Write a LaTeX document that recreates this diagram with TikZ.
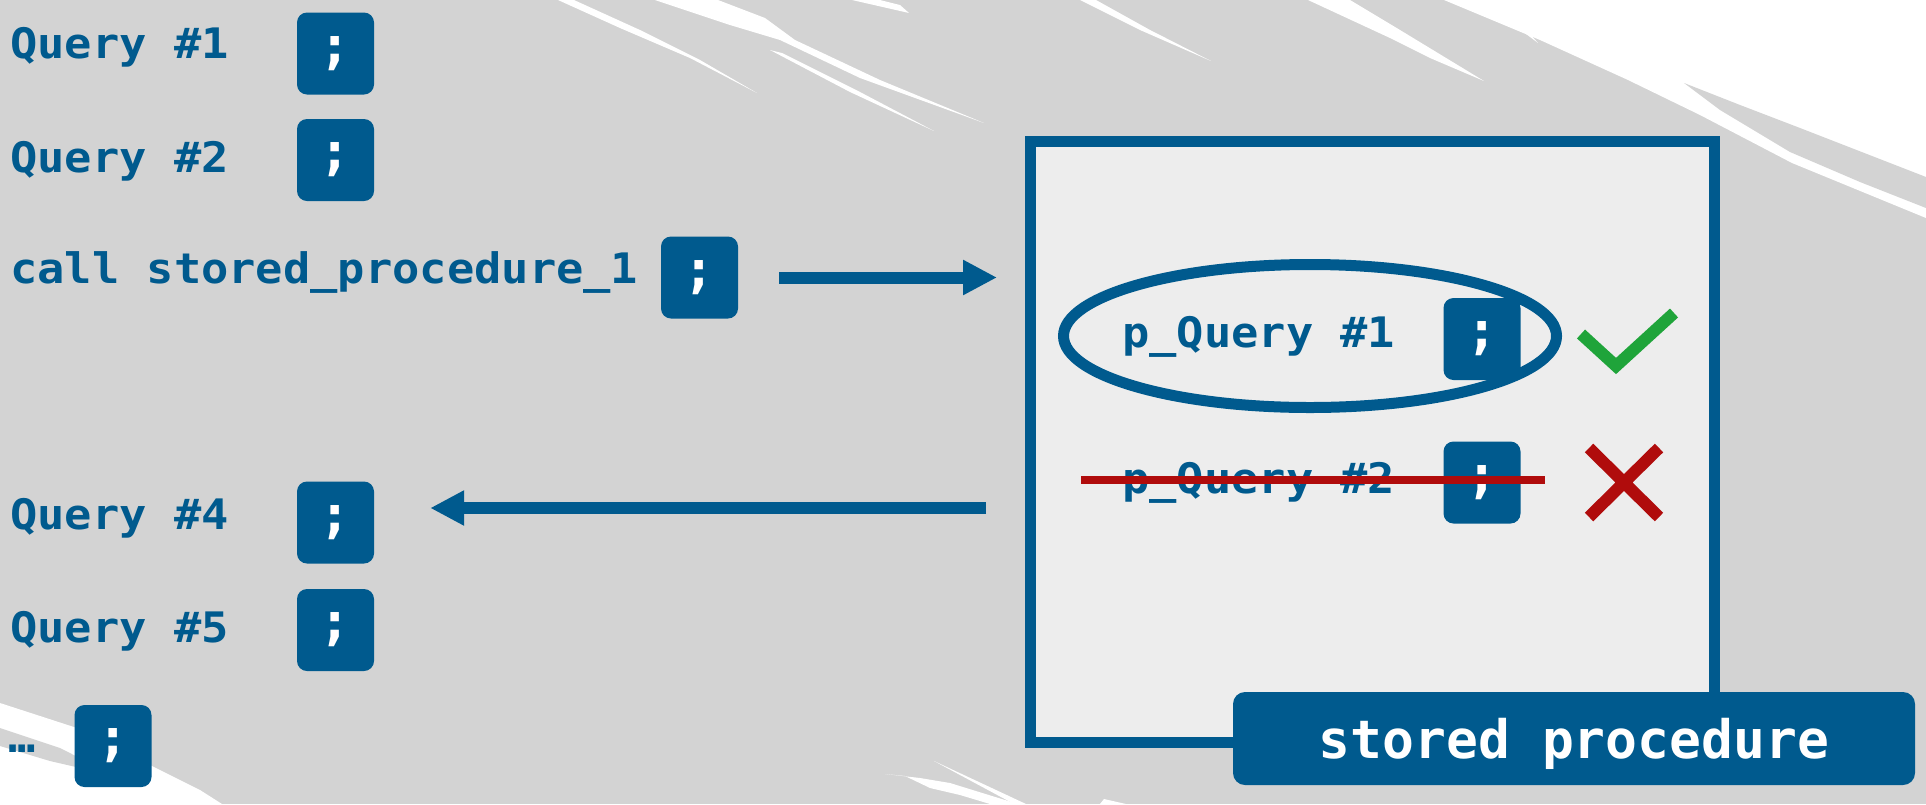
\documentclass[tikz,border=0pt]{standalone}
\usepackage{fontspec}
\usetikzlibrary{arrows.meta,shapes.geometric}
\newfontfamily\qfont{DejaVu Sans Mono}[FakeStretch=1.08]
\newfontfamily\spfont{DejaVu Sans Mono}
\definecolor{myblue}{HTML}{005A8E}
\definecolor{bggray}{HTML}{D3D3D3}
\definecolor{boxfill}{HTML}{EDEDED}
\definecolor{okgreen}{HTML}{1FA43A}
\definecolor{badred}{HTML}{B00C0C}
\tikzset{
  qtext/.style={anchor=base west, inner sep=0pt, text=myblue, font=\qfont\bfseries\fontsize{42}{48}\selectfont},
  semi/.style={fill=myblue, rounded corners=10pt, minimum width=77pt, minimum height=82pt, inner sep=0pt, text=white, font=\spfont\bfseries\fontsize{52}{60}\selectfont},
  arr/.style={draw=myblue, line width=12pt, -{Triangle[length=34pt,width=33pt]}},
  streak/.style={fill=white},
  sliver/.style={fill=bggray},
}
\begin{document}
\begin{tikzpicture}[x=1pt,y=-1pt]
\useasboundingbox (0,0) rectangle (1926,804);
% background
\fill[bggray] (0,0) rectangle (1926,804);
% top streaks
\fill[streak] (558,0) -- (574,0) -- (640,30) -- (700,60) -- (757,93) -- (690,58) -- (620,28) -- cycle;
\fill[streak] (655,0) -- (718,0) -- (765,18) -- (795,40) -- (880,80) -- (984,123) -- (860,78) -- (780,40) -- (730,25) -- cycle;
\fill[streak] (770,50) -- (782,53) -- (860,92) -- (934,131) -- (850,92) -- cycle;
\fill[streak] (852,0) -- (880,0) -- (900,5) -- (909,13) -- cycle;
\fill[streak] (1080,0) -- (1096,0) -- (1150,30) -- (1211,61) -- (1140,30) -- cycle;
\fill[streak] (1308,0) -- (1350,0) -- (1400,30) -- (1484,81) -- (1430,58) -- (1390,38) -- cycle;
\fill[streak] (1510,22) -- (1522,25) -- (1538,43) -- cycle;
% top-right white area
\fill[streak] (1444,0) -- (1540,40) -- (1628,80) -- (1700,115) -- (1792,163) -- (1926,218) -- (1926,0) -- cycle;
\fill[sliver] (1684,83) -- (1740,105) -- (1800,128) -- (1926,177) -- (1926,208) -- (1860,182) -- (1790,152) -- (1720,110) -- cycle;
% bottom-left white area
\fill[streak] (0,703) -- (77,728) -- (140,760) -- (200,790) -- (222,804) -- (0,804) -- cycle;
\fill[sliver] (0,728) -- (60,748) -- (115,776) -- (50,761) -- (0,746) -- cycle;
% bottom streaks
\fill[streak] (885,774) -- (905,776) -- (930,788) -- (960,795) -- (990,804) -- (1018,804) -- (950,783) -- (920,778) -- cycle;
\fill[streak] (934,761) -- (1026,804) -- (1014,804) -- cycle;
\fill[streak] (1104,799) -- (1126,804) -- (1100,804) -- cycle;

% left column
\node[qtext] (q1) at (10,58) {Query \#1};
\node[semi] (s1) at (335.5,53.5) {;};
\node[qtext] (q2) at (10,172) {Query \#2};
\node[semi] (s2) at (335.5,160) {;};
\node[qtext] (qc) at (10,283) {call stored\_procedure\_1};
\node[semi] (cs) at (699.5,277.5) {;};
\node[qtext] (q4) at (10,529) {Query \#4};
\node[semi] (s4) at (335.5,522.5) {;};
\node[qtext] (q5) at (10,642) {Query \#5};
\node[semi] (s5) at (335.5,630) {;};
\node[qtext] (qd) at (8,752) {…};
\node[semi] (sd) at (113,746) {;};

% stored procedure box
\node[draw=myblue, line width=11pt, fill=boxfill, minimum width=684pt, minimum height=601pt, inner sep=0pt] (big) at (1372.5,442) {};
\node[ellipse, draw=myblue, line width=11pt, minimum width=493pt, minimum height=143pt, inner sep=0pt] (ell) at (1310,336) {};
\node[qtext] (p1) at (1122,347) {p\_Query \#1};
\node[semi] (ps1) at (1482,339) {;};
\node[qtext] (p2) at (1122,493) {p\_Query \#2};
\node[semi] (ps2) at (1482,482.5) {;};
\coordinate (st1) at (1081,480);
\coordinate (st2) at (1545,480);
\draw[badred, line width=8pt] (st1) -- (st2);
% check mark
\coordinate (ck1) at (1581,334);
\coordinate (ck2) at (1616,366);
\coordinate (ck3) at (1674,313);
\draw[okgreen, line width=12pt, miter limit=10] (ck1) -- (ck2) -- (ck3);
% cross
\coordinate (x1) at (1589,448);
\coordinate (x2) at (1659,517);
\coordinate (x3) at (1659,448);
\coordinate (x4) at (1589,517);
\draw[badred, line width=12pt] (x1) -- (x2) (x3) -- (x4);

\node[fill=myblue, rounded corners=12pt, minimum width=682pt, minimum height=93pt, inner sep=0pt, text height=39pt, text depth=0pt, text=white, font=\spfont\bfseries\fontsize{53}{60}\selectfont] (sp) at (1574,738.5) {stored procedure};

% arrows
\coordinate (ra) at ([xshift=41pt]cs.east);
\coordinate (rb) at ([xshift=-28pt]big.west |- cs.east);
\draw[arr] (ra) -- (rb);
\coordinate (la) at ([xshift=-39pt,yshift=-66pt]big.west);
\coordinate (lx) at (la -| s4.east);
\coordinate (lb) at ([xshift=56pt]lx);
\draw[arr] (la) -- (lb);
\end{tikzpicture}
\end{document}
